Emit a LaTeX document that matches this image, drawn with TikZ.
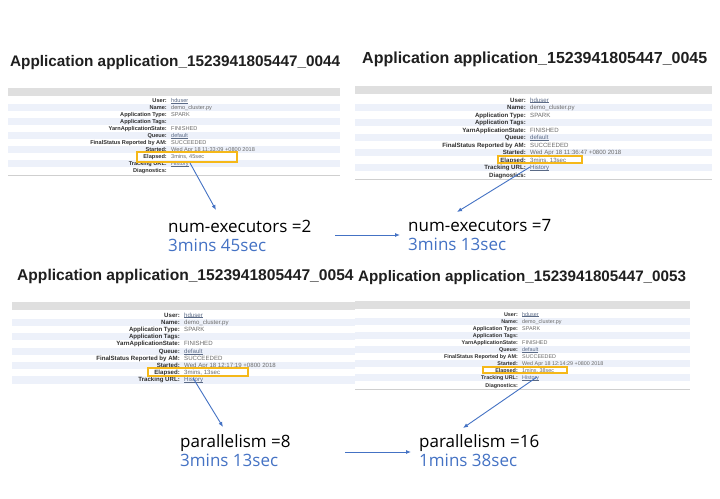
\documentclass[tikz,border=0pt]{standalone}
\usepackage{fontspec}
\setmainfont{Liberation Sans}
\newfontfamily\lblfont{Open Sans}
\usetikzlibrary{arrows.meta}
\definecolor{accent}{HTML}{4472C4}
\definecolor{gold}{HTML}{F5B819}
\definecolor{stripe}{HTML}{EDF1FA}
\definecolor{hdr}{HTML}{DFDFDF}
\definecolor{rulec}{HTML}{CFCFCF}
\definecolor{labc}{HTML}{2E2E2E}
\definecolor{valc}{HTML}{6A6A6A}
\definecolor{lnkc}{HTML}{5A6A86}
\newcommand\lnk[1]{\textcolor{lnkc}{\setbox0\hbox{#1}\rlap{\rule[-0.14em]{\wd0}{0.07em}}\box0}}
\tikzset{
  ttl/.style={font=\fontsize{#1}{#1}\selectfont\bfseries, text=black!88, inner sep=0pt, anchor=base west},
  cell lab/.style={font=\fontsize{\pfs}{\pfs}\selectfont\bfseries, text=labc, inner sep=0pt, anchor=base east},
  cell val/.style={font=\fontsize{\pfs}{\pfs}\selectfont, text=valc, inner sep=0pt, anchor=base west},
  elbox/.style={draw=gold, line width=1.4pt, inner sep=0pt},
  big/.style={font=\lblfont\fontsize{17}{17}\selectfont, inner sep=0pt, anchor=base west},
  bigtime/.style={big, text=accent},
  conn/.style={draw=accent, line width=0.9pt, -{Latex[length=5pt,width=4pt]}},
}
\newcommand\prow[3]{%
  \node[cell lab] (\pid l#1) at (\psep,{\pyr+(#1-0.5)*\prh+2}) {#2};
  \node[cell val] (\pid v#1) at ({\psep+4},{\pyr+(#1-0.5)*\prh+2}) {#3};
}
\newcommand\drawpanel[2]{%
  \fill[hdr] (\px,\pyb) rectangle (\pxe,{\pyb+8});
  \foreach \i in {2,4,...,\pnrows} {\fill[stripe] (\px,{\pyr+(\i-1)*\prh}) rectangle (\pxe,{\pyr+\i*\prh});}
  \prow{1}{User:}{\lnk{hduser}}
  \prow{2}{Name:}{demo\_cluster.py}
  \prow{3}{Application Type:}{SPARK}
  \prow{4}{Application Tags:}{}
  \prow{5}{YarnApplicationState:}{FINISHED}
  \prow{6}{Queue:}{\lnk{default}}
  \prow{7}{FinalStatus Reported by AM:}{SUCCEEDED}
  \prow{8}{Started:}{#1}
  \prow{9}{Elapsed:}{#2}
  \prow{10}{Tracking URL:}{\lnk{History}}
  \ifnum\pnrows>10
    \prow{11}{Diagnostics:}{}
    \draw[rulec, line width=1pt] (\px,{\pyr+\pnrows*\prh+1}) -- (\pxe,{\pyr+\pnrows*\prh+1});
  \fi
}
\begin{document}
\begin{tikzpicture}[x=1pt,y=-1pt]
\useasboundingbox (0,0) rectangle (720,498);
\fill[white] (0,0) rectangle (720,498);

% panel 1
\def\pid{pa}\def\px{8}\def\pxe{340}\def\pyb{88}\def\pyr{97}\def\prh{7}\def\psep{167}\def\pfs{5.6}\def\pnrows{11}
\drawpanel{Wed Apr 18 11:33:09 +0800 2018}{3mins, 45sec}
% panel 2
\def\pid{pb}\def\px{355}\def\pxe{712}\def\pyb{86}\def\pyr{96.25}\def\prh{7.5}\def\psep{526}\def\pfs{6.1}\def\pnrows{11}
\drawpanel{Wed Apr 18 11:36:47 +0800 2018}{3mins, 13sec}
% panel 3
\def\pid{pc}\def\px{12}\def\pxe{355}\def\pyb{302}\def\pyr{311.4}\def\prh{7.22}\def\psep{180}\def\pfs{6.1}\def\pnrows{10}
\drawpanel{Wed Apr 18 12:17:19 +0800 2018}{3mins, 13sec}
% panel 4
\def\pid{pd}\def\px{355}\def\pxe{690}\def\pyb{301}\def\pyr{310.45}\def\prh{7.1}\def\psep{518}\def\pfs{5.4}\def\pnrows{11}
\drawpanel{Wed Apr 18 12:14:29 +0800 2018}{1mins, 38sec}

% titles
\node[ttl=15.3] (t1) at (10,66) {Application application\_1523941805447\_0044};
\node[ttl=16] (t2) at (362,63) {Application application\_1523941805447\_0045};
\node[ttl=15.6] (t3) at (17,280) {Application application\_1523941805447\_0054};
\node[ttl=15.2] (t4) at (358,281) {Application application\_1523941805447\_0053};

% yellow boxes
\node[elbox, minimum width=100pt, minimum height=10pt] (e1) at (187,157) {};
\node[elbox, minimum width=84pt, minimum height=7pt] (e2) at (540,159.5) {};
\node[elbox, minimum width=100pt, minimum height=8pt] (e3) at (198,372) {};
\node[elbox, minimum width=84pt, minimum height=6pt] (e4) at (525,370) {};

% big labels
\node[big] (n1) at (168,232) {num-executors =2};
\node[bigtime] (n1t) at (168,251) {3mins 45sec};
\node[big] (n2) at (408,231) {num-executors =7};
\node[bigtime] (n2t) at (408,250) {3mins 13sec};
\node[big] (n3) at (180,447) {parallelism =8};
\node[bigtime] (n3t) at (180,466) {3mins 13sec};
\node[big] (n4) at (419,447) {parallelism =16};
\node[bigtime] (n4t) at (419,466) {1mins 38sec};

% connectors
\coordinate (a1s) at (190,163); \coordinate (a1e) at (216,210);
\coordinate (a2s) at (530,167); \coordinate (a2e) at (457,212);
\coordinate (a3s) at (193,378); \coordinate (a3e) at (223,427);
\coordinate (a4s) at (537,377); \coordinate (a4e) at (463,428);
\coordinate (h1s) at (335,235); \coordinate (h1e) at (400,235);
\coordinate (h2s) at (345,452); \coordinate (h2e) at (411,452);
\draw[conn] (a1s) -- (a1e);
\draw[conn] (a2s) -- (a2e);
\draw[conn] (a3s) -- (a3e);
\draw[conn] (a4s) -- (a4e);
\draw[conn] (h1s) -- (h1e);
\draw[conn] (h2s) -- (h2e);
\end{tikzpicture}
\end{document}
